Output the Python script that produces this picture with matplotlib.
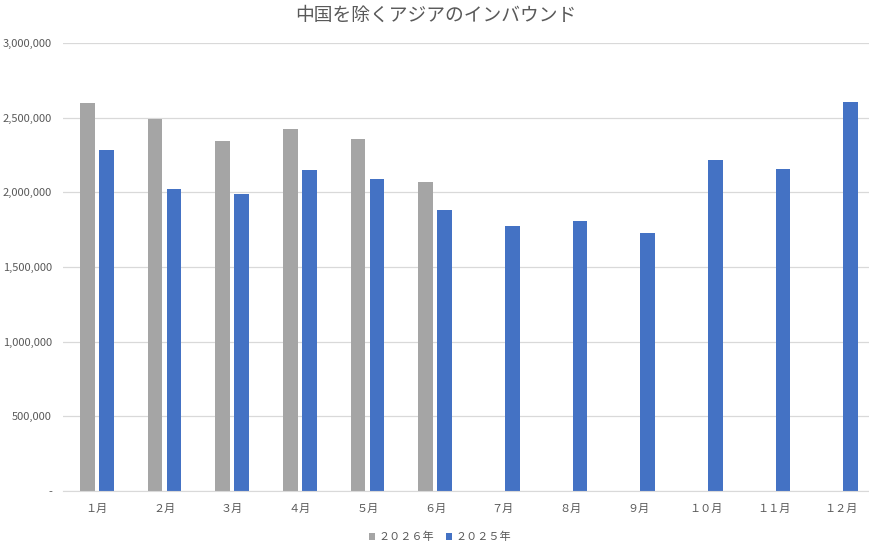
import matplotlib
matplotlib.use("Agg")
import matplotlib.pyplot as plt
import numpy as np
from matplotlib.ticker import FuncFormatter

plt.rcParams['font.family'] = ['Noto Sans CJK JP', 'DejaVu Sans']

# data
months = ['１月', '２月', '３月', '４月', '５月', '６月',
          '７月', '８月', '９月', '１０月', '１１月', '１２月']
visitors_2026 = [2595000, 2490000, 2347000, 2421000, 2358000, 2067000]
visitors_2025 = [2284000, 2020000, 1989000, 2152000, 2087000, 1884000,
                 1774000, 1810000, 1727000, 2217000, 2159000, 2606000]

gray = '#A5A5A5'
blue = '#4472C4'
text_col = '#595959'

fig = plt.figure(figsize=(8.70, 5.47), dpi=100)
ax = fig.add_axes([63 / 870, 56 / 547, 812 / 870, 448 / 547])

x = np.arange(len(months))
w = 0.22
off = 0.141
ax.bar(x[:len(visitors_2026)] - off, visitors_2026, width=w, color=gray, label='２０２６年')
ax.bar(x + off, visitors_2025, width=w, color=blue, label='２０２５年')

ax.set_xlim(-0.5, 11.5)
ax.set_ylim(0, 3000000)
ax.set_yticks(np.arange(0, 3000001, 500000))
ax.yaxis.set_major_formatter(FuncFormatter(lambda v, p: '-' if v == 0 else f'{int(v):,}'))
ax.set_xticks(x)
ax.set_xticklabels(months)

ax.grid(axis='y', color='#D9D9D9', linewidth=0.9)
ax.set_axisbelow(True)
for s in ['top', 'right', 'left']:
    ax.spines[s].set_visible(False)
ax.spines['bottom'].set_color('#D9D9D9')
ax.tick_params(axis='both', length=0, colors=text_col, labelsize=8)
ax.tick_params(axis='x', pad=9)
ax.tick_params(axis='y', pad=8)

fig.text(436 / 870, 1 - 15 / 547, '中国を除くアジアのインバウンド', ha='center', va='center',
         fontsize=13.5, color=text_col)

leg = fig.legend(loc='center', bbox_to_anchor=(440 / 870, 1 - 537 / 547), ncol=2, frameon=False,
                 fontsize=8, handlelength=0.6, handleheight=0.6, handletextpad=0.3,
                 columnspacing=1.0, labelcolor=text_col)

fig.savefig('out.png', dpi=100)
